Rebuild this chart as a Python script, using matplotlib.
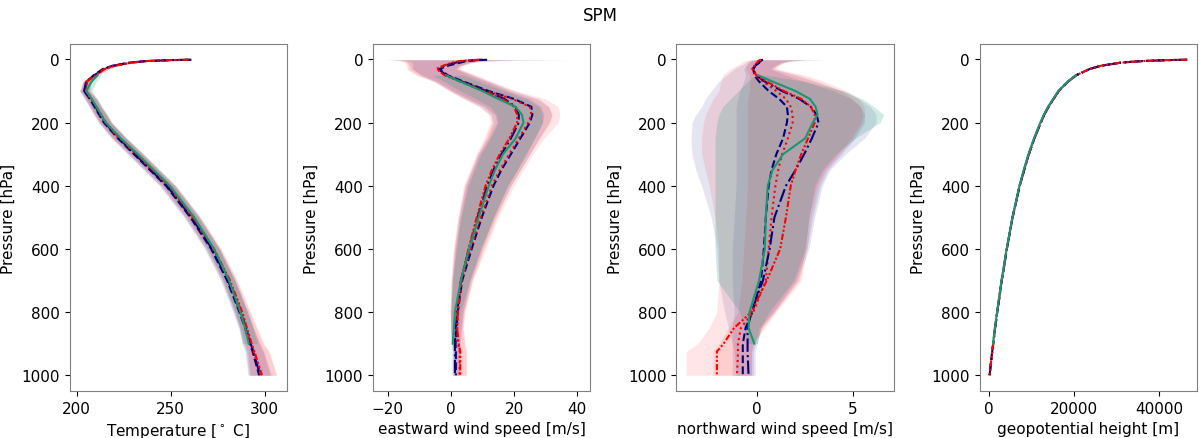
import numpy as np
from matplotlib import pyplot as plt

# pressure levels [hPa]
p = [1, 2, 5, 10, 20, 30, 50, 70, 100, 125, 150, 175, 200, 250, 300, 350, 400, 500, 600, 700, 800, 850, 900, 925, 1000]
p_green = [50, 70, 100, 125, 150, 175, 200, 250, 300, 350, 400, 500, 600, 700, 800, 850, 900]

# temperature
t_navy_dash = [261, 251, 237, 228, 219, 214, 209, 205.5, 204, 207, 209.5, 212, 214.5, 222, 230.5, 239, 247.5, 260.5, 271.5, 280, 286.5, 289.5, 292, 293.5, 297]
t_navy_dd = [260.5, 250.5, 237, 228.5, 219.5, 214.5, 209.5, 205, 204, 207.5, 210, 212.5, 215, 222.5, 231, 239.5, 248, 261, 272, 280.5, 287, 290, 292.5, 294, 297.5]
t_red_dot = [259, 250, 237, 229, 220, 215, 210, 205, 204.5, 207.5, 210, 212.5, 215, 222.5, 231.5, 240, 248.5, 261.5, 272.5, 281, 287.5, 290, 292.5, 294, 298]
t_red_ddd = [259.5, 250.5, 237.5, 229.5, 220.5, 215, 210, 205.5, 205, 208, 210.5, 213, 215.5, 223, 232, 240.5, 249, 262, 273, 281.5, 288, 290.5, 293, 294.5, 298.5]
t_green = [211, 208, 205, 208, 210.5, 213, 215.5, 223.5, 232.5, 241, 249.5, 262.5, 273, 281, 287, 289.5, 291.5]

t_nd_lo = [259, 249, 235.5, 226.5, 217.5, 212.5, 207.5, 203.5, 201.5, 204, 206.5, 209, 211.5, 218.5, 227, 235.5, 244, 257, 268, 276.5, 283, 286, 288, 289.5, 291]
t_nd_hi = [262, 252.5, 238.5, 229.5, 220.5, 215.5, 210.5, 207.5, 206.5, 210, 212.5, 215.5, 218, 226, 234.5, 243, 251.5, 264.5, 275.5, 284, 291, 294, 297, 299, 303]
t_ndd_lo = [259.5, 249.5, 236, 227, 218, 213, 208, 203.5, 202, 204.5, 207, 209.5, 212, 219, 227.5, 236, 244.5, 257.5, 268.5, 277, 283.5, 286.5, 288.5, 290, 291.5]
t_ndd_hi = [261.5, 252, 238.5, 230, 221, 216, 211, 207, 206.5, 210.5, 213, 216, 218.5, 226.5, 235, 243.5, 252, 265, 276, 284.5, 291, 294, 297.5, 299.5, 303.5]
t_rd_lo = [257.5, 248.5, 235.5, 227, 218, 213, 208, 203, 201.5, 204.5, 207, 209.5, 212, 219, 228, 236.5, 245, 258, 269, 277.5, 284, 287, 289, 290.5, 292]
t_rd_hi = [260.5, 252, 239, 231, 222, 217, 212, 207.5, 207, 210.5, 213, 216, 218.5, 226.5, 235.5, 244, 252.5, 265.5, 276.5, 285, 292, 295.5, 299, 302, 306.5]
t_rddd_lo = [258, 249, 236, 227.5, 218.5, 213.5, 208.5, 203.5, 202, 205, 207.5, 210, 212.5, 219.5, 228.5, 237, 245.5, 258.5, 269.5, 278, 284.5, 287.5, 289.5, 291, 292.5]
t_rddd_hi = [261, 252.5, 239.5, 231.5, 222, 217, 212, 207.5, 207.5, 211, 213.5, 216.5, 219, 227, 236, 244.5, 253, 266, 277, 285.5, 292.5, 296, 299.5, 302.5, 306]
t_g_lo = [209, 205.5, 202.5, 205.5, 208, 210.5, 213, 220.5, 229.5, 238, 246.5, 259.5, 270, 278, 284, 286.5, 288]
t_g_hi = [213, 210.5, 208, 211, 213.5, 216, 218.5, 226.5, 235.5, 244, 252.5, 265.5, 276, 284, 290.5, 293.5, 296]

# eastward wind
u_navy_dash = [11.5, 8.5, 5, 3, -1, -3.5, -1, 4, 12, 20, 25.5, 25.8, 25, 22, 19, 16, 13.5, 9.8, 6.6, 3.6, 2.2, 1.8, 1.5, 1.6, 1.6]
u_navy_dd = [10, 7.5, 4, 1.5, -2, -4, -1.5, 3.5, 11, 17, 20.5, 21.5, 21.5, 19, 16, 13.5, 11.5, 8.5, 5.8, 3.2, 2.0, 1.6, 1.3, 1.3, 1.3]
u_red_dot = [9.5, 7, 3.5, 1, -2, -4, -1.5, 3.5, 11.5, 19.5, 25, 25.5, 24.5, 21.5, 18.5, 15.5, 13, 9.5, 6.3, 3.5, 2.2, 2.0, 2.3, 2.8, 2.8]
u_red_ddd = [9, 6.5, 3, 0.5, -2.5, -4.5, -2, 3, 10.5, 16.5, 20, 21, 21, 18.5, 15.5, 13, 11, 8.2, 5.6, 3.2, 2.2, 2.0, 2.5, 3.0, 3.0]
u_green = [-1.5, 3, 10, 15, 20.5, 22.5, 23, 20.5, 16.5, 14, 12, 8.8, 5.8, 3.2, 1.3, 1.0, 0.6]

u_nd_lo = [-20, -16, -13, -12, -12, -12, -9, -4, 1, 6, 11, 14, 14.5, 12, 9, 7, 5, 3, 1.5, 0.5, 0, 0, 0.3, 0.5, 0.5]
u_nd_hi = [38, 20, 10, 6, 3, 2, 7, 12, 20, 28, 31, 32, 31, 28, 25, 22, 19, 14, 10, 6.5, 4, 3.5, 3, 3, 3]
u_ndd_lo = [-19, -16.5, -14.5, -13.5, -13, -12.5, -9.5, -5, 0, 4.5, 9.5, 12.5, 13.5, 11.5, 8.5, 6.5, 4.5, 2.5, 1.2, 0.3, 0, 0, 0.2, 0.3, 0.3]
u_ndd_hi = [36, 19, 9, 5.5, 2.5, 1.5, 6, 11, 18, 25, 28.5, 29.5, 29, 26.5, 23.5, 21, 18, 13.5, 9.5, 6, 3.8, 3.2, 2.8, 2.8, 2.8]
u_rd_lo = [-21.5, -18, -15.5, -14.5, -14, -14, -11, -5, 0, 5, 10.5, 13, 13, 11, 8.5, 6.5, 4.5, 2.5, 1.0, 0.2, -0.2, 0, 0.5, 1.0, 1.0]
u_rd_hi = [41, 22, 11, 7, 3.5, 3, 8, 13, 21, 30, 34, 34.5, 34, 29.5, 26, 23, 20, 15, 11, 7, 4.5, 4, 4.5, 5, 5]
u_rddd_lo = [-20.5, -17.5, -15, -14, -13.5, -13.5, -10.5, -5.5, -0.5, 4, 9, 12, 12.5, 10.5, 8, 6, 4, 2.2, 0.8, 0, -0.2, 0, 0.5, 1.0, 1.0]
u_rddd_hi = [39, 20, 10, 6.5, 3, 2.5, 7.5, 12.5, 19, 27, 31, 32, 31.5, 28, 25, 22, 19, 14.5, 10.5, 6.8, 4.3, 3.8, 4.3, 4.8, 4.8]
u_g_lo = [-6, -2, 3, 8, 12.5, 14.5, 15, 12.5, 9.5, 7.5, 5.5, 3.2, 1.8, 0.6, 0, 0, 0]
u_g_hi = [4, 9, 17, 24, 28, 29, 29, 26.5, 24, 21, 18, 13.5, 9.5, 6, 3, 2.5, 2]

# northward wind
v_navy_dash = [0.3, 0.25, 0.15, 0.1, -0.1, -0.2, -0.15, 0.1, 0.6, 1.15, 1.55, 1.6, 1.55, 1.35, 1.0, 0.75, 0.6, 0.45, 0.35, 0.2, -0.25, -0.6, -0.75, -0.75, -0.75]
v_navy_dd = [0.3, 0.25, 0.15, 0.1, -0.1, -0.2, -0.05, 0.4, 1.3, 2.2, 2.8, 3.1, 3.2, 2.85, 2.45, 2.0, 1.5, 0.9, 0.65, 0.3, -0.3, -0.5, -0.5, -0.5, -0.45]
v_red_dot = [0.2, 0.15, 0.05, 0.0, -0.15, -0.25, -0.1, 0.3, 1.0, 1.5, 1.75, 1.85, 1.85, 1.6, 1.3, 1.1, 0.95, 0.75, 0.6, 0.45, -0.2, -0.85, -1.0, -1.0, -1.05]
v_red_ddd = [0.2, 0.15, 0.05, 0.0, -0.15, -0.25, -0.05, 0.5, 1.4, 2.3, 2.8, 3.0, 3.0, 2.65, 2.3, 2.0, 1.75, 1.5, 1.2, 0.5, -0.3, -1.2, -1.75, -2.1, -2.1]
v_green = [0.05, 0.8, 2.0, 2.75, 3.05, 3.15, 2.9, 2.5, 1.35, 0.8, 0.55, 0.45, 0.4, 0.1, -0.4, -0.45, -0.15]

v_nd_lo = [-0.1, -0.3, -0.5, -0.6, -0.9, -1.2, -1.6, -2.0, -2.4, -2.7, -2.9, -3.2, -3.4, -3.45, -3.4, -3.2, -2.9, -2.4, -2.1, -2.0, -1.7, -1.5, -1.3, -1.2, -1.1]
v_nd_hi = [3.7, 2.5, 1.8, 1.4, 1.0, 0.8, 2.0, 3.0, 4.5, 5.3, 5.9, 6.2, 6.2, 5.6, 4.6, 3.8, 3.4, 3.0, 2.7, 2.1, 0.9, 0.2, 0.0, -0.1, -0.1]
v_ndd_lo = [-0.05, -0.2, -0.3, -0.4, -0.6, -0.7, -0.6, -0.7, -0.9, -1.0, -1.1, -1.1, -1.1, -1.1, -1.1, -1.1, -1.1, -1.2, -1.3, -1.3, -1.2, -1.3, -1.3, -1.3, -1.3]
v_ndd_hi = [3.5, 2.3, 1.6, 1.2, 0.9, 0.7, 1.5, 2.5, 4.0, 4.9, 5.4, 5.6, 5.6, 5.1, 4.4, 3.7, 3.3, 2.9, 2.6, 2.0, 0.8, 0.1, -0.1, -0.2, -0.2]
v_rd_lo = [-0.3, -0.5, -0.7, -0.8, -1.1, -1.4, -1.8, -1.9, -2.0, -2.3, -2.5, -2.7, -2.8, -2.9, -2.9, -2.7, -2.5, -2.2, -2.0, -2.0, -2.1, -2.5, -3.1, -3.7, -3.7]
v_rd_hi = [3.6, 2.5, 1.8, 1.4, 1.1, 1.0, 2.5, 3.5, 4.7, 5.3, 5.6, 5.6, 5.5, 5.0, 4.3, 3.6, 3.2, 2.8, 2.6, 2.3, 1.0, 0.4, -0.2, -0.3, -0.3]
v_rddd_lo = [-0.2, -0.3, -0.4, -0.5, -0.55, -0.6, -0.4, -0.4, -0.4, -0.5, -0.5, -0.5, -0.5, -0.5, -0.5, -0.5, -0.5, -0.6, -0.7, -0.8, -1.0, -1.5, -2.0, -2.3, -2.3]
v_rddd_hi = [3.4, 2.3, 1.6, 1.3, 1.0, 0.9, 2.2, 3.2, 4.4, 5.0, 5.4, 5.5, 5.4, 4.9, 4.2, 3.5, 3.1, 2.7, 2.5, 2.2, 0.9, 0.3, -0.2, -0.3, -0.3]
v_g_lo = [-0.1, -0.5, -1.0, -1.4, -1.8, -2.0, -2.1, -2.2, -2.2, -2.2, -2.2, -2.2, -2.2, -2.1, -0.9, -0.7, -0.5]
v_g_hi = [0.5, 2.5, 4.5, 5.5, 6.1, 6.6, 6.4, 5.1, 4.1, 3.4, 3.0, 2.7, 2.5, 1.9, 0.6, 0.2, 0.0]

# geopotential height
z_ref = [46500, 42000, 36000, 31000, 26300, 23700, 20500, 18600, 16400, 15200, 14000, 13000, 12200, 10700, 9400, 8300, 7250, 5600, 4250, 3050, 2000, 1500, 1050, 820, 200]
z_green = [20400, 18500, 16300, 15100, 13900, 12900, 12100, 10600, 9300, 8200, 7200, 5550, 4200, 3000, 1950, 1450, 1000]

NAVY = 'navy'
RED = 'red'
GREEN = '#1b9670'
DDD = (0, (3, 1, 1, 1, 1, 1))

plt.rcParams['font.size'] = 11

fig, axes = plt.subplots(1, 4, figsize=(12, 4.39), dpi=100)
fig.subplots_adjust(left=0.058, right=0.9975, bottom=0.107, top=0.8975, wspace=0.396)

panels = [
    (t_navy_dash, t_navy_dd, t_red_dot, t_red_ddd, t_green,
     [(t_nd_lo, t_nd_hi), (t_ndd_lo, t_ndd_hi), (t_rd_lo, t_rd_hi), (t_rddd_lo, t_rddd_hi), (t_g_lo, t_g_hi)],
     r'Temperature [$^\circ$ C]', [200, 250, 300]),
    (u_navy_dash, u_navy_dd, u_red_dot, u_red_ddd, u_green,
     [(u_nd_lo, u_nd_hi), (u_ndd_lo, u_ndd_hi), (u_rd_lo, u_rd_hi), (u_rddd_lo, u_rddd_hi), (u_g_lo, u_g_hi)],
     'eastward wind speed [m/s]', [-20, 0, 20, 40]),
    (v_navy_dash, v_navy_dd, v_red_dot, v_red_ddd, v_green,
     [(v_nd_lo, v_nd_hi), (v_ndd_lo, v_ndd_hi), (v_rd_lo, v_rd_hi), (v_rddd_lo, v_rddd_hi), (v_g_lo, v_g_hi)],
     'northward wind speed [m/s]', [0, 5]),
    (z_ref, z_ref, z_ref, z_ref, z_green, [],
     'geopotential height [m]', [0, 20000, 40000]),
]

# shading of each ensemble, same order as the lines
band_colors = [(NAVY, 0.1), (NAVY, 0.1), (RED, 0.1), (RED, 0.1), (GREEN, 0.2)]

for ax, (nd, ndd, rd, rddd, gr, bands, xlabel, xticks) in zip(axes, panels):
    for k, (lo, hi) in enumerate(bands):
        pp = p_green if k == 4 else p
        c, a = band_colors[k]
        ax.fill_betweenx(pp, lo, hi, color=c, alpha=a, lw=0)
    ax.plot(nd, p, color=NAVY, ls='--', lw=1.5)
    ax.plot(rd, p, color=RED, ls=':', lw=1.5)
    ax.plot(ndd, p, color=NAVY, ls='-.', lw=1.5)
    ax.plot(rddd, p, color=RED, ls=DDD, lw=1.5)
    ax.plot(gr, p_green, color=GREEN, ls='-', lw=1.5)
    ax.invert_yaxis()
    ax.set_xticks(xticks)
    ax.set_yticks([0, 200, 400, 600, 800, 1000])
    ax.set_xlabel(xlabel)
    ax.set_ylabel('Pressure [hPa]')
    for s in ax.spines.values():
        s.set_color('#808080')

fig.suptitle('SPM', y=0.985, fontsize=12)
fig.savefig('out.png', dpi=100)
